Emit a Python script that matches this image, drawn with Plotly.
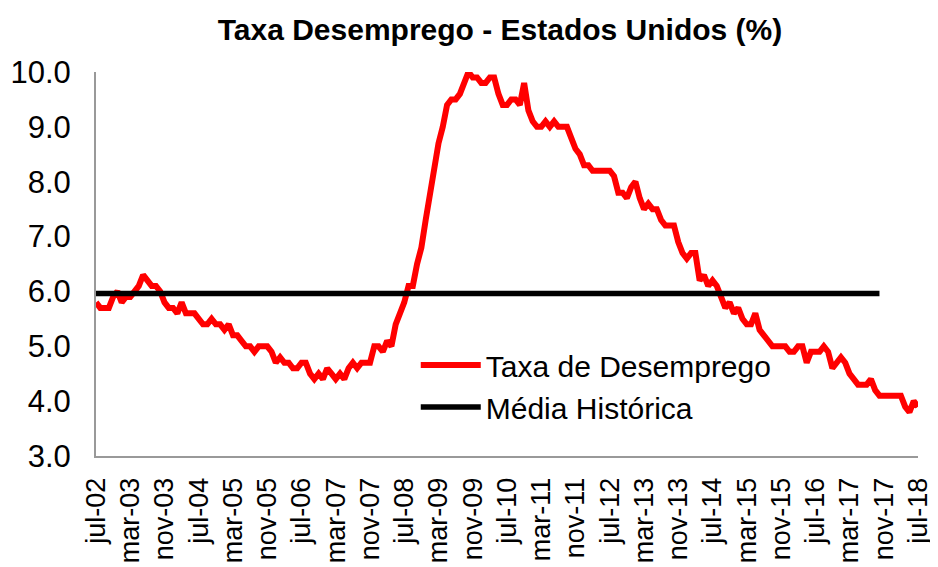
import plotly.graph_objects as go

# Monthly US unemployment rate (%) from jul-02 to jul-18
taxa_desemprego = [
    # 2002 jul-dec
    5.8, 5.7, 5.7, 5.7, 5.9, 6.0,
    # 2003
    5.8, 5.9, 5.9, 6.0, 6.1, 6.3, 6.2, 6.1, 6.1, 6.0, 5.8, 5.7,
    # 2004
    5.7, 5.6, 5.8, 5.6, 5.6, 5.6, 5.5, 5.4, 5.4, 5.5, 5.4, 5.4,
    # 2005
    5.3, 5.4, 5.2, 5.2, 5.1, 5.0, 5.0, 4.9, 5.0, 5.0, 5.0, 4.9,
    # 2006
    4.7, 4.8, 4.7, 4.7, 4.6, 4.6, 4.7, 4.7, 4.5, 4.4, 4.5, 4.4,
    # 2007
    4.6, 4.5, 4.4, 4.5, 4.4, 4.6, 4.7, 4.6, 4.7, 4.7, 4.7, 5.0,
    # 2008
    5.0, 4.9, 5.1, 5.0, 5.4, 5.6, 5.8, 6.1, 6.1, 6.5, 6.8, 7.3,
    # 2009
    7.8, 8.3, 8.7, 9.0, 9.4, 9.5, 9.5, 9.6, 9.8, 10.0, 9.9, 9.9,
    # 2010
    9.8, 9.8, 9.9, 9.9, 9.6, 9.4, 9.4, 9.5, 9.5, 9.4, 9.8, 9.3,
    # 2011
    9.1, 9.0, 9.0, 9.1, 9.0, 9.1, 9.0, 9.0, 9.0, 8.8, 8.6, 8.5,
    # 2012
    8.3, 8.3, 8.2, 8.2, 8.2, 8.2, 8.2, 8.1, 7.8, 7.8, 7.7, 7.9,
    # 2013
    8.0, 7.7, 7.5, 7.6, 7.5, 7.5, 7.3, 7.2, 7.2, 7.2, 6.9, 6.7,
    # 2014
    6.6, 6.7, 6.7, 6.2, 6.3, 6.1, 6.2, 6.1, 5.9, 5.7, 5.8, 5.6,
    # 2015
    5.7, 5.5, 5.4, 5.4, 5.6, 5.3, 5.2, 5.1, 5.0, 5.0, 5.0, 5.0,
    # 2016
    4.9, 4.9, 5.0, 5.0, 4.7, 4.9, 4.9, 4.9, 5.0, 4.9, 4.6, 4.7,
    # 2017
    4.8, 4.7, 4.5, 4.4, 4.3, 4.3, 4.3, 4.4, 4.2, 4.1, 4.1, 4.1,
    # 2018 jan-jul
    4.1, 4.1, 4.1, 3.9, 3.8, 4.0, 3.9,
]

media_historica_valor = 5.96
media_historica_meses = 184  # months covered by the historical-average line

tick_labels = [
    "jul-02", "mar-03", "nov-03", "jul-04", "mar-05", "nov-05", "jul-06",
    "mar-07", "nov-07", "jul-08", "mar-09", "nov-09", "jul-10", "mar-11",
    "nov-11", "jul-12", "mar-13", "nov-13", "jul-14", "mar-15", "nov-15",
    "jul-16", "mar-17", "nov-17", "jul-18",
]
tick_step = 8

x_idx = list(range(len(taxa_desemprego)))
media = [media_historica_valor] * media_historica_meses
x_media = list(range(media_historica_meses))
tick_vals = [i * tick_step for i in range(len(tick_labels))]

FONT = "Liberation Sans, Arial, sans-serif"
W, H = 930, 559  # page body has an 8px margin

fig = go.Figure()
fig.add_trace(go.Scatter(
    x=x_idx, y=taxa_desemprego, mode="lines", name="Taxa de Desemprego",
    line=dict(color="#FF0000", width=6),
))
fig.add_trace(go.Scatter(
    x=x_media, y=media, mode="lines", name="Média Histórica",
    line=dict(color="#000000", width=5.5),
))

fig.update_layout(
    width=W, height=H,
    paper_bgcolor="white", plot_bgcolor="white",
    margin=dict(l=88, r=20, t=64, b=111, autoexpand=False),
    font=dict(family=FONT, color="black"),
    title=dict(
        text="<b>Taxa Desemprego - Estados Unidos (%)</b>",
        font=dict(size=30, family=FONT, color="black"),
        x=492 / W, xref="container", xanchor="center",
        y=1 - 21 / H, yref="container", yanchor="middle",
    ),
    showlegend=True,
    legend=dict(
        x=0.389, y=0.305, xanchor="left", yanchor="top",
        font=dict(size=30, family=FONT, color="black"),
        bgcolor="rgba(0,0,0,0)", tracegroupgap=0,
        itemwidth=60,
    ),
)
fig.update_xaxes(
    range=[0, len(taxa_desemprego) - 1], automargin=False,
    tickmode="array", tickvals=tick_vals, ticktext=tick_labels,
    tickangle=-90, tickfont=dict(size=27, family=FONT, color="black"),
    showgrid=False, zeroline=False,
    showline=True, linecolor="#999999", linewidth=2,
    ticks="", ticklabelstandoff=9,
)
fig.update_yaxes(
    range=[3, 10], dtick=1, tick0=3, tickformat=".1f", automargin=False,
    tickfont=dict(size=31, family=FONT, color="black"),
    showgrid=False, zeroline=False,
    showline=True, linecolor="#999999", linewidth=2,
    ticks="", ticklabelstandoff=17,
)

fig.write_html("out.html")
